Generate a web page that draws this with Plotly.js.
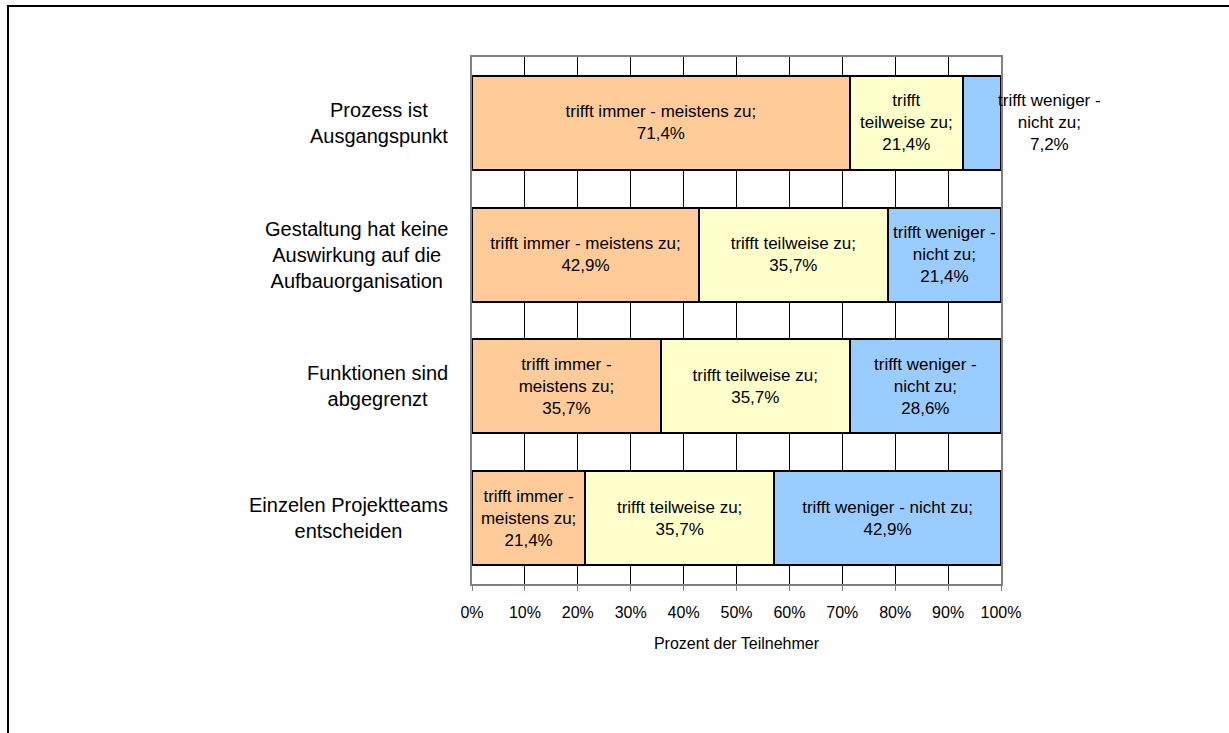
<!DOCTYPE html>
<html>
<head>
<meta charset="utf-8">
<script src="https://cdn.plot.ly/plotly-3.0.1.min.js"></script>
<style>
  body { margin: 0; background: #fff; }
  #chart { position: absolute; left: 0; top: 0; width: 1229px; height: 733px; }
  #frame { position: absolute; left: 7px; top: 5px; width: 1222px; height: 728px;
           border-top: 2px solid #000; border-left: 2px solid #000; pointer-events: none; }
</style>
</head>
<body>
<div id="chart"></div>
<div id="frame"></div>
<script>
// categories, top to bottom
let categories = [
    "Prozess ist<br>Ausgangspunkt",
    "Gestaltung hat keine<br>Auswirkung auf die<br>Aufbauorganisation",
    "Funktionen sind<br>abgegrenzt",
    "Einzelen Projektteams<br>entscheiden"
];

// percent of participants
let immer = [71.4, 42.9, 35.7, 21.4];
let teilweise = [21.4, 35.7, 35.7, 35.7];
let weniger = [7.2, 21.4, 28.6, 42.9];

// label texts as wrapped in the chart
let immerText = ["trifft immer - meistens zu;", "trifft immer - meistens zu;", "trifft immer -<br>meistens zu;", "trifft immer -<br>meistens zu;"];
let teilweiseText = ["trifft<br>teilweise zu;", "trifft teilweise zu;", "trifft teilweise zu;", "trifft teilweise zu;"];
let wenigerText = ["trifft weniger -<br>nicht zu;", "trifft weniger -<br>nicht zu;", "trifft weniger -<br>nicht zu;", "trifft weniger - nicht zu;"];

let ticks = [0, 10, 20, 30, 40, 50, 60, 70, 80, 90, 100];
let tickLabels = ["0%", "10%", "20%", "30%", "40%", "50%", "60%", "70%", "80%", "90%", "100%"];

let font = "Liberation Sans, Arial, sans-serif";
let labelSize = 17;

function fmt(v) {
    return v.toFixed(1).replace('.', ',') + '%';
}

function series(name, values, labels, color, show) {
    return {
        type: 'bar',
        orientation: 'h',
        name: name,
        x: values,
        y: categories,
        text: labels.map((l, i) => show[i] ? l + '<br>' + fmt(values[i]) : ''),
        textposition: 'inside',
        insidetextanchor: 'middle',
        textangle: 0,
        constraintext: 'none',
        textfont: { family: font, size: labelSize, color: '#000' },
        marker: { color: color, line: { color: '#000', width: 2 } },
        hoverinfo: 'none'
    };
}

// the 7,2% segment is too narrow, its label sits right of the bar
let fits = weniger.map(v => v > 10);

let data = [
    series("trifft immer - meistens zu", immer, immerText, '#FFCC99', immer.map(() => true)),
    series("trifft teilweise zu", teilweise, teilweiseText, '#FFFFCC', teilweise.map(() => true)),
    series("trifft weniger - nicht zu", weniger, wenigerText, '#99CCFF', fits)
];

let annotations = categories.map(c => ({
    text: c,
    xref: 'paper',
    x: 0,
    xanchor: 'right',
    xshift: -22,
    y: c,
    yref: 'y',
    showarrow: false,
    align: 'center',
    font: { family: font, size: 20, color: '#000' }
}));

weniger.forEach((v, i) => {
    if (fits[i]) return;
    let end = Math.round((immer[i] + teilweise[i] + v) * 10) / 10;
    annotations.push({
        text: wenigerText[i] + '<br>' + fmt(v),
        x: end / 100,
        xref: 'paper',
        xanchor: 'left',
        xshift: -5,
        y: categories[i],
        yref: 'y',
        showarrow: false,
        align: 'center',
        font: { family: font, size: labelSize, color: '#000' }
    });
});

let layout = {
    barmode: 'stack',
    bargap: 0.287,
    showlegend: false,
    paper_bgcolor: '#fff',
    plot_bgcolor: '#fff',
    margin: { l: 472, r: 228, t: 57, b: 149 },
    font: { family: font, color: '#000' },
    xaxis: {
        range: [0, 100],
        tickvals: ticks,
        ticktext: tickLabels,
        showgrid: true,
        gridcolor: '#000',
        gridwidth: 1,
        showline: true,
        mirror: true,
        linecolor: '#808080',
        linewidth: 2,
        ticks: 'outside',
        ticklen: 5,
        tickcolor: '#808080',
        ticklabelstandoff: 8,
        tickfont: { family: font, size: 16, color: '#000' },
        zeroline: false,
        fixedrange: true,
        title: { text: 'Prozent der Teilnehmer', font: { family: font, size: 16, color: '#000' }, standoff: 18 }
    },
    yaxis: {
        autorange: 'reversed',
        showticklabels: false,
        showgrid: false,
        showline: true,
        mirror: true,
        linecolor: '#808080',
        linewidth: 2,
        fixedrange: true
    },
    annotations: annotations
};

Plotly.newPlot('chart', data, layout, { displayModeBar: false, staticPlot: true });
</script>
</body>
</html>
